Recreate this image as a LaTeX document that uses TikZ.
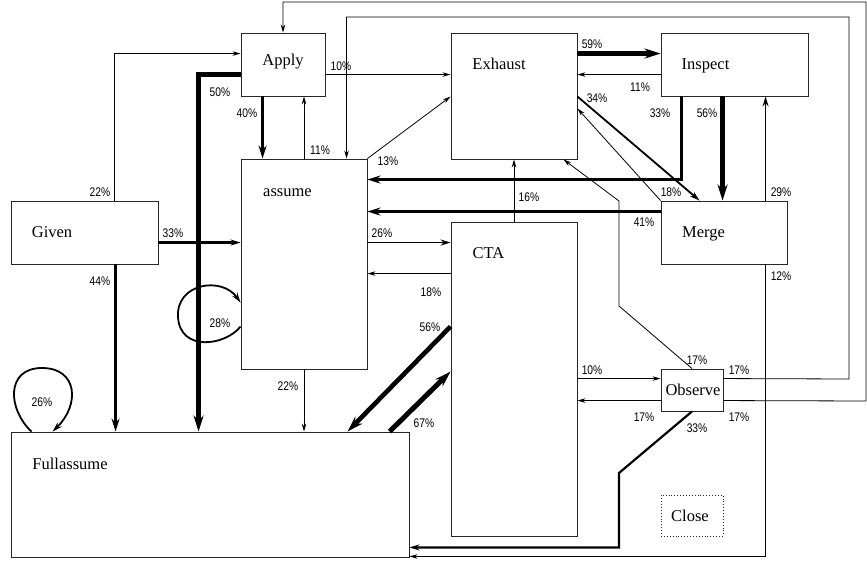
\documentclass[tikz,border=0pt]{standalone}
\usepackage{fontspec}
\setmainfont{Liberation Serif}
\newfontfamily\pctfont[FakeStretch=0.82]{Liberation Sans}
\usetikzlibrary{arrows.meta,calc}
\begin{document}
\begin{tikzpicture}[x=1pt,y=-1pt,
  box/.style={draw=black!85, line width=0.9pt, inner sep=0pt},
  lbl/.style={font=\fontsize{16.5}{18}\selectfont, inner sep=0pt, anchor=base},
  pct/.style={font=\pctfont\fontsize{12.5}{14}\selectfont, inner sep=0pt},
  thinc/.style={line width=0.8pt, -{Stealth[length=8pt,width=4.5pt]}},
  medc/.style={line width=1.8pt, -{Stealth[length=10pt,width=6pt]}},
  boldc/.style={line width=3pt, -{Stealth[length=13pt,width=8pt]}},
  heavyc/.style={line width=4.6pt, -{Stealth[length=16pt,width=10pt]}},
  miter/.style={line join=miter}]
\useasboundingbox (0,0) rectangle (867,561);

% boxes
\node[box, minimum width=84pt, minimum height=63pt] (apply) at (283,64.5) {};
\node[box, minimum width=126pt, minimum height=126pt] (exhaust) at (514,96) {};
\node[box, minimum width=147pt, minimum height=63pt] (inspect) at (734.5,64.5) {};
\node[box, minimum width=126pt, minimum height=210pt] (assume) at (304,264) {};
\node[box, minimum width=147pt, minimum height=63pt] (given) at (84.5,232.5) {};
\node[box, minimum width=126pt, minimum height=314pt] (cta) at (514,379) {};
\node[box, minimum width=126pt, minimum height=63pt] (merge) at (724,232.5) {};
\node[box, minimum width=62pt, minimum height=42pt] (observe) at (692,390) {};
\node[box, minimum width=398pt, minimum height=125pt] (full) at (210,494.5) {};
\node[box, dotted, minimum width=62pt, minimum height=41pt] (close) at (692,515.5) {};

% box texts
\node[lbl] (applyt) at (283,66) {Apply};
\node[lbl] (exhaustt) at (499,70) {Exhaust};
\node[lbl] (inspectt) at (705.5,70) {Inspect};
\node[lbl] (assumet) at (287.5,197) {assume};
\node[lbl] (givent) at (52,238) {Given};
\node[lbl] (merget) at (703.5,238) {Merge};
\node[lbl] (ctat) at (488.5,259) {CTA};
\node[lbl] (fullt) at (70,469) {Fullassume};
\node[lbl] (observet) at (693,395) {Observe};
\node[lbl] (closet) at (690,521.5) {Close};

% connectors
\draw[thinc, miter] ($(observe.north east)+(0,32)$) -- (866,401) -- (866,2) -| (apply.north);
\draw[thinc, miter] ($(observe.north east)+(0,10)$) -- (849,379) -- (849,17) -| ($(assume.north west)+(106,0)$);
\draw[thinc, miter] ($(given.north west)+(104,0)$) |- ($(apply.north west)+(0,21)$);
\draw[heavyc, miter] ($(apply.north west)+(0,42)$) -| ($(full.north west)+(188,0)$);
\draw[boldc] ($(apply.south west)+(22,0)$) -- ($(assume.north west)+(22,0)$);
\draw[thinc] (assume.north) -- (assume.north |- apply.south);
\draw[thinc] ($(apply.north east)+(0,42)$) -- ($(exhaust.north west)+(0,42)$);
\draw[thinc] (assume.north east) -- ($(exhaust.north west)+(0,64)$);
\draw[heavyc] ($(exhaust.north east)+(0,21)$) -- ($(inspect.north west)+(0,21)$);
\draw[thinc] ($(inspect.north west)+(0,42)$) -- ($(exhaust.north east)+(0,42)$);
\draw[medc] ($(exhaust.north east)+(0,64)$) -- ($(merge.north west)+(39,0)$);
\draw[heavyc] ($(inspect.south west)+(62,0)$) -- ($(merge.north west)+(62,0)$);
\draw[medc, line width=1.5pt] ($(merge.north west)+(105,0)$) -- ($(inspect.south west)+(105,0)$);
\draw[boldc, line width=2.6pt, miter] ($(inspect.south west)+(21,0)$) |- ($(assume.north east)+(0,21)$);
\draw[boldc] ($(merge.north west)+(0,11)$) -- ($(assume.north east)+(0,53)$);
\draw[thinc] (merge.north west) -- ($(exhaust.north east)+(0,76)$);
\draw[thinc] (observe.north) -- (619,306) -- (619,201) -- ($(exhaust.south east)+(-14,0)$);
\draw[thinc] (cta.north) -- (exhaust.south);
\draw[medc, line width=2.1pt] ($(given.north east)+(0,42)$) -- ($(assume.north west)+(0,84)$);
\draw[boldc, line width=2.8pt] ($(given.south west)+(105,0)$) -- ($(full.north west)+(105,0)$);
\draw[medc] ($(assume.north west)+(0,168)$) .. controls (225,346) and (180,352) .. (178,317) .. controls (176,283) and (222,276) .. ($(assume.north west)+(0,144)$);
\draw[medc] ($(full.north west)+(21,0)$) .. controls (8,410) and (5,368) .. (42,368) .. controls (78,368) and (80,405) .. ($(full.north west)+(42,0)$);
\draw[thinc] (assume.south) -- (assume.south |- full.north);
\draw[medc] ($(assume.north east)+(0,84)$) -- ($(cta.north west)+(0,21)$);
\draw[thinc] ($(cta.north west)+(0,52)$) -- ($(assume.north east)+(0,115)$);
\draw[heavyc] ($(cta.north west)+(0,105)$) -- ($(full.north west)+(337,0)$);
\draw[heavyc, line width=5pt] ($(full.north west)+(379,0)$) -- ($(cta.north west)+(0,150)$);
\draw[thinc] ($(cta.north east)+(0,157)$) -- ($(observe.north west)+(0,10)$);
\draw[thinc] ($(observe.north west)+(0,32)$) -- ($(cta.north east)+(0,179)$);
\draw[medc, line width=2.2pt, miter] (observe.south) -- (619,473) |- ($(full.south east)+(0,-10)$);
\draw[thinc, miter] ($(merge.south west)+(105,0)$) |- ($(full.south east)+(0,-1)$);

% percentages
\node[pct] (p1) at (100,192) {22\%};
\node[pct] (p2) at (220,92) {50\%};
\node[pct] (p3) at (247,113) {40\%};
\node[pct] (p4) at (341,66) {10\%};
\node[pct] (p5) at (320,150) {11\%};
\node[pct] (p6) at (388,161) {13\%};
\node[pct] (p7) at (592,44.5) {59\%};
\node[pct] (p8) at (640,87) {11\%};
\node[pct] (p9) at (597,98.5) {34\%};
\node[pct] (p10) at (660,113) {33\%};
\node[pct] (p11) at (707,113) {56\%};
\node[pct] (p12) at (671,192) {18\%};
\node[pct] (p13) at (781,192) {29\%};
\node[pct] (p14) at (529,197) {16\%};
\node[pct] (p15) at (644,222) {41\%};
\node[pct] (p16) at (781,276) {12\%};
\node[pct] (p17) at (697,360) {17\%};
\node[pct] (p18) at (592,370) {10\%};
\node[pct] (p19) at (739,370) {17\%};
\node[pct] (p20) at (644,417) {17\%};
\node[pct] (p21) at (739,417) {17\%};
\node[pct] (p22) at (697,428) {33\%};
\node[pct] (p23) at (173,233) {33\%};
\node[pct] (p24) at (382,233) {26\%};
\node[pct] (p25) at (100,281) {44\%};
\node[pct] (p26) at (431,292) {18\%};
\node[pct] (p27) at (430,327) {56\%};
\node[pct] (p28) at (220,323) {28\%};
\node[pct] (p29) at (288,386) {22\%};
\node[pct] (p30) at (42,402) {26\%};
\node[pct] (p31) at (424,423) {67\%};
\end{tikzpicture}
\end{document}
